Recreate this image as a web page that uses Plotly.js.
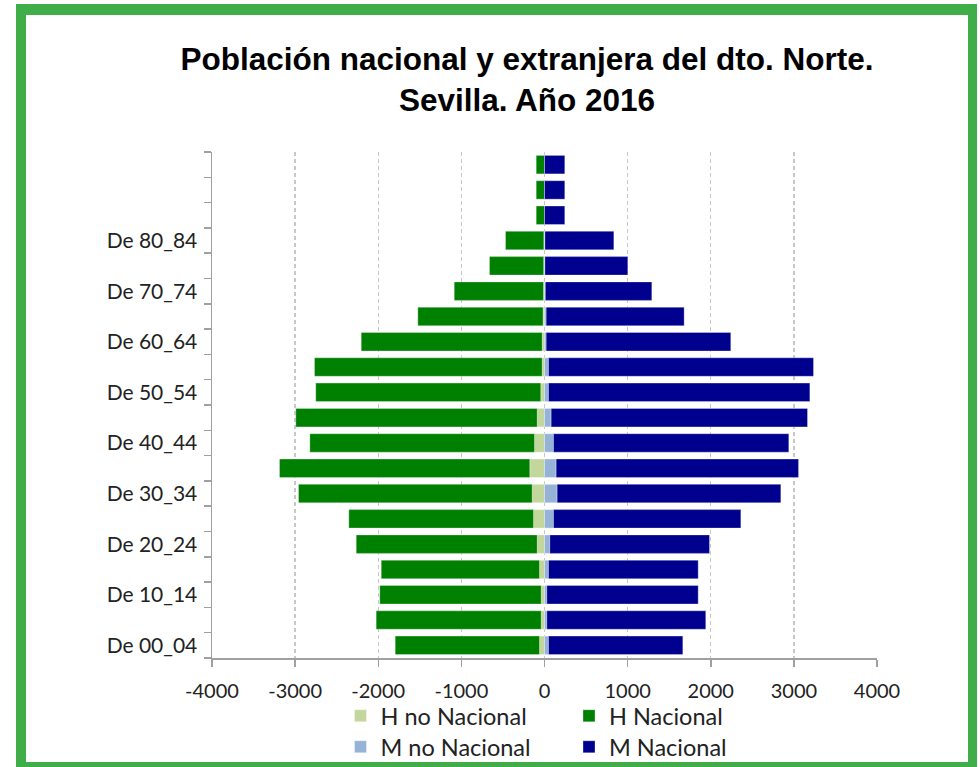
<!DOCTYPE html>
<html><head><meta charset="utf-8">
<script src="https://cdn.plot.ly/plotly-3.0.1.min.js"></script>
<style>
html,body{margin:0;padding:0;background:#fff;overflow:hidden;}
#frame{position:absolute;left:16px;top:4px;width:942px;height:747px;border-style:solid;border-color:#3fae49;border-width:11px 9px 10px 10px;background:#fff;}
#chart{width:942px;height:747px;}
</style></head><body>
<div id="frame"><div id="chart"></div></div>
<script>
// Age groups (bottom to top)
const categories = ['De 00_04','De 05_09','De 10_14','De 15_19','De 20_24','De 25_29','De 30_34','De 35_39','De 40_44','De 45_49','De 50_54','De 55_59','De 60_64','De 65_69','De 70_74','De 75_79','De 80_84','De 85_89','De 90_94','De 95_99'];
// Tick labels shown on the axis (every other one, top three blank)
const tickLabels = ['De 00_04','','De 10_14','','De 20_24','','De 30_34','','De 40_44','','De 50_54','','De 60_64','','De 70_74','','De 80_84','','',''];
// Men (drawn to the left)
const hNoNacional = [60,40,40,60,88,132,148,177,120,88,45,28,28,18,12,10,8,0,0,0];
const hNacional   = [1736,1985,1942,1904,2177,2222,2811,3011,2703,2904,2707,2739,2177,1506,1074,652,461,100,100,100];
// Women (drawn to the right)
const mNoNacional = [48,28,28,48,64,108,152,140,108,80,48,48,20,20,10,5,5,0,0,0];
const mNacional   = [1616,1912,1821,1801,1921,2254,2691,2916,2831,3084,3144,3188,2221,1660,1281,997,829,244,244,244];
// X axis ticks
const xTickValues = [-4000,-3000,-2000,-1000,0,1000,2000,3000,4000];
const xTickLabels = ['-4000','-3000','-2000','-1000','0','1000','2000','3000','4000'];
const seriesNames = ['H no Nacional','H Nacional','M no Nacional','M Nacional'];

const colors = ['#c3d69b','#008000','#95b3d7','#00008e'];
const edge = ['rgba(255,255,255,0.35)','rgba(255,255,255,0.3)','rgba(255,255,255,0.35)','rgba(255,255,255,0.3)'];
const neg = a => a.map(v => -v);
const seriesVals = [neg(hNoNacional), neg(hNacional), mNoNacional, mNacional];
const legendIds = ['legend','legend2','legend3','legend4'];

const traces = seriesVals.map((vals,i) => ({
  type:'bar', orientation:'h', name: seriesNames[i],
  x: vals, y: categories,
  marker:{color: colors[i], line:{color: edge[i], width:1}},
  legend: legendIds[i], showlegend:true, hoverinfo:'name+x'
}));

const legFont = {family:'Lato, "Open Sans", sans-serif', size:23.5, color:'#222'};
function leg(x, y){
  return {x:x, y:y, xref:'container', yref:'container', xanchor:'left', yanchor:'middle',
    orientation:'h', font:legFont, bgcolor:'rgba(0,0,0,0)', borderwidth:0};
}

const layout = {
  width:942, height:747,
  margin:{l:186, r:91, t:137, b:104},
  paper_bgcolor:'#fff', plot_bgcolor:'#fff',
  barmode:'relative', bargap:0.27,
  title:{text:'Población nacional y extranjera del dto. Norte.<br>Sevilla. Año 2016',
    font:{family:'"Liberation Sans", Arial, sans-serif', size:31.5, color:'#000', weight:700},
    x:501/942, xref:'container', xanchor:'center', y:1-55/747, yref:'container', yanchor:'top'},
  xaxis:{range:[-4000,4000], tickmode:'array', tickvals:xTickValues, ticktext:xTickLabels,
    showgrid:true, gridcolor:'#c8c8c8', gridwidth:1.3, griddash:'4px,3px', zeroline:false,
    showline:true, linecolor:'#a0a0a0', linewidth:1.5,
    ticks:'outside', ticklen:7, tickwidth:1.5, tickcolor:'#a0a0a0', ticklabelstandoff:7,
    tickfont:{family:'Lato, "Open Sans", sans-serif', size:20, color:'#222'}, fixedrange:true},
  yaxis:{type:'category', categoryorder:'array', categoryarray:categories,
    tickmode:'array', tickvals:categories, ticktext:tickLabels, tickson:'boundaries',
    range:[-0.5,19.5], showgrid:false, zeroline:false,
    showline:true, linecolor:'#a0a0a0', linewidth:1.5,
    ticks:'outside', ticklen:7, tickwidth:1.5, tickcolor:'#a0a0a0', ticklabelstandoff:9,
    tickfont:{family:'Lato, "Open Sans", sans-serif', size:21, color:'#222'}, fixedrange:true},
  legend: leg(314.5/942, 1-701/747),
  legend2: leg(543/942, 1-701/747),
  legend3: leg(314.5/942, 1-732/747),
  legend4: leg(543/942, 1-732/747)
};

Plotly.newPlot('chart', traces, layout, {displayModeBar:false, staticPlot:true});
</script>
</body></html>
